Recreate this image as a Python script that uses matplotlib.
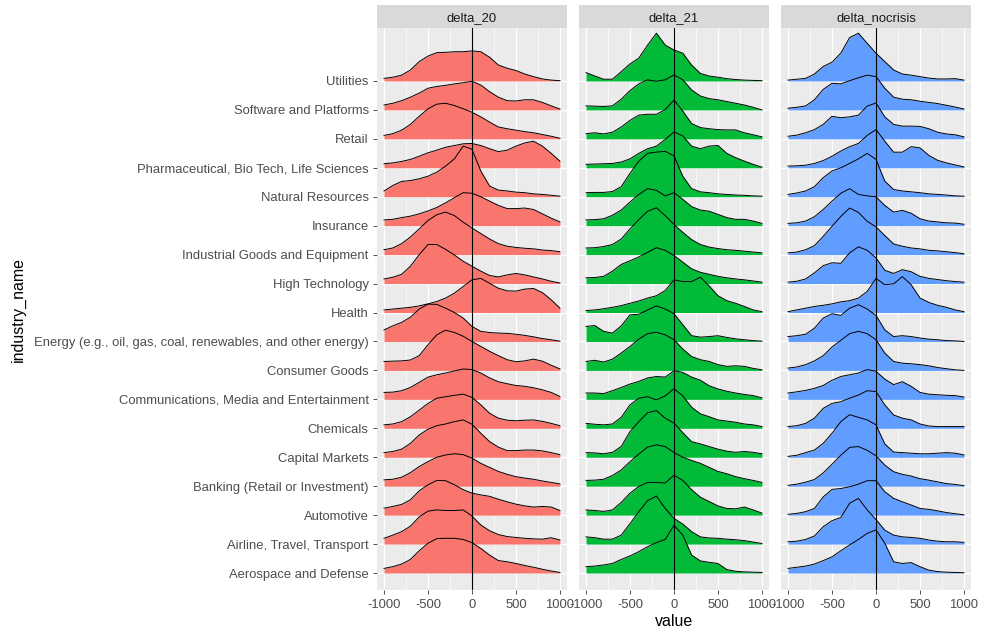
import matplotlib
matplotlib.use("Agg")
import matplotlib.pyplot as plt

plt.rcParams['font.family'] = ['Liberation Sans', 'DejaVu Sans']

# industries from bottom row to top row
industries = [
    "Aerospace and Defense", "Airline, Travel, Transport", "Automotive",
    "Banking (Retail or Investment)", "Capital Markets", "Chemicals",
    "Communications, Media and Entertainment", "Consumer Goods",
    "Energy (e.g., oil, gas, coal, renewables, and other energy)", "Health",
    "High Technology", "Industrial Goods and Equipment", "Insurance",
    "Natural Resources", "Pharmaceutical, Bio Tech, Life Sciences", "Retail",
    "Software and Platforms", "Utilities",
]

# x positions where ridge heights were read
value_grid = [-1000, -900, -800, -700, -600, -500, -400, -300, -200, -100, 0,
              100, 200, 300, 400, 500, 600, 700, 800, 900, 1000]

# ridge heights (in row units), same order as industries
delta_20 = [
    [0.16, 0.22, 0.31, 0.47, 0.77, 1.03, 1.19, 1.2, 1.2, 1.16, 1.05, 0.85, 0.62, 0.43, 0.39, 0.33, 0.26, 0.2, 0.13, 0.07, 0.02],
    [0.2, 0.31, 0.43, 0.62, 0.94, 1.14, 1.18, 1.16, 1.16, 1.18, 0.97, 0.66, 0.46, 0.33, 0.26, 0.23, 0.2, 0.18, 0.17, 0.22, 0.14],
    [0.24, 0.3, 0.37, 0.53, 0.84, 1.05, 1.2, 1.19, 1.05, 0.88, 0.76, 0.7, 0.65, 0.55, 0.46, 0.38, 0.32, 0.28, 0.3, 0.28, 0.16],
    [0.22, 0.24, 0.31, 0.47, 0.68, 0.85, 1.0, 1.08, 1.12, 1.09, 0.97, 0.79, 0.65, 0.51, 0.41, 0.33, 0.28, 0.24, 0.18, 0.13, 0.08],
    [0.16, 0.2, 0.28, 0.48, 0.77, 0.97, 1.09, 1.15, 1.23, 1.29, 1.14, 0.83, 0.54, 0.35, 0.23, 0.23, 0.25, 0.25, 0.22, 0.16, 0.09],
    [0.12, 0.15, 0.23, 0.4, 0.63, 0.86, 1.04, 1.09, 1.14, 1.18, 1.07, 0.81, 0.52, 0.35, 0.28, 0.26, 0.28, 0.29, 0.24, 0.17, 0.09],
    [0.24, 0.25, 0.3, 0.41, 0.59, 0.77, 0.85, 0.91, 0.98, 1.05, 1.03, 0.91, 0.74, 0.61, 0.54, 0.48, 0.45, 0.4, 0.33, 0.24, 0.1],
    [0.31, 0.32, 0.33, 0.36, 0.51, 0.89, 1.23, 1.39, 1.31, 1.18, 1.0, 0.83, 0.66, 0.51, 0.37, 0.3, 0.33, 0.39, 0.32, 0.18, 0.05],
    [0.4, 0.54, 0.66, 0.84, 1.12, 1.29, 1.28, 1.15, 1.0, 0.81, 0.52, 0.35, 0.31, 0.29, 0.28, 0.25, 0.21, 0.16, 0.1, 0.06, 0.01],
    [0.09, 0.12, 0.15, 0.18, 0.23, 0.3, 0.38, 0.5, 0.67, 0.9, 1.13, 1.18, 1.01, 0.84, 0.75, 0.74, 0.81, 0.83, 0.69, 0.44, 0.15],
    [0.16, 0.22, 0.32, 0.6, 1.0, 1.35, 1.35, 1.18, 0.99, 0.77, 0.6, 0.43, 0.28, 0.23, 0.3, 0.35, 0.3, 0.23, 0.16, 0.08, 0.02],
    [0.17, 0.23, 0.38, 0.61, 0.89, 1.18, 1.38, 1.47, 1.35, 1.12, 0.92, 0.73, 0.54, 0.38, 0.29, 0.25, 0.22, 0.2, 0.16, 0.14, 0.1],
    [0.2, 0.22, 0.28, 0.33, 0.41, 0.51, 0.63, 0.79, 0.97, 1.14, 1.12, 1.0, 0.85, 0.7, 0.59, 0.59, 0.61, 0.56, 0.41, 0.26, 0.13],
    [0.2, 0.39, 0.53, 0.56, 0.62, 0.71, 0.85, 1.06, 1.31, 1.75, 1.64, 0.89, 0.37, 0.23, 0.2, 0.16, 0.14, 0.1, 0.08, 0.05, 0.02],
    [0.14, 0.17, 0.22, 0.29, 0.4, 0.52, 0.61, 0.71, 0.77, 0.83, 0.84, 0.77, 0.66, 0.56, 0.61, 0.75, 0.86, 0.92, 0.75, 0.5, 0.23],
    [0.12, 0.18, 0.3, 0.5, 0.78, 1.04, 1.2, 1.23, 1.15, 1.04, 0.92, 0.76, 0.58, 0.41, 0.35, 0.3, 0.25, 0.21, 0.15, 0.09, 0.02],
    [0.17, 0.23, 0.32, 0.44, 0.58, 0.75, 0.81, 0.85, 0.9, 0.94, 0.99, 0.86, 0.63, 0.44, 0.32, 0.31, 0.35, 0.35, 0.26, 0.14, 0.03],
    [0.09, 0.13, 0.2, 0.38, 0.67, 0.86, 0.98, 0.99, 1.01, 1.01, 1.04, 1.01, 0.82, 0.55, 0.44, 0.36, 0.24, 0.15, 0.07, 0.03, 0.01],
]

delta_21 = [
    [0.22, 0.24, 0.28, 0.33, 0.47, 0.59, 0.74, 0.91, 1.05, 1.16, 1.65, 1.31, 0.62, 0.42, 0.37, 0.33, 0.12, 0.06, 0.04, 0.03, 0.02],
    [0.25, 0.22, 0.17, 0.17, 0.31, 0.71, 1.12, 1.5, 1.66, 1.23, 0.89, 0.69, 0.43, 0.25, 0.21, 0.2, 0.17, 0.15, 0.12, 0.07, 0.02],
    [0.18, 0.16, 0.13, 0.18, 0.44, 0.76, 0.99, 1.13, 1.13, 1.11, 1.38, 1.2, 0.88, 0.62, 0.47, 0.32, 0.23, 0.22, 0.28, 0.18, 0.07],
    [0.2, 0.21, 0.24, 0.37, 0.56, 0.85, 1.11, 1.35, 1.43, 1.37, 1.16, 1.0, 0.89, 0.79, 0.65, 0.51, 0.43, 0.33, 0.26, 0.2, 0.13],
    [0.16, 0.15, 0.12, 0.17, 0.37, 0.89, 1.23, 1.54, 1.61, 1.35, 1.18, 0.85, 0.54, 0.46, 0.37, 0.28, 0.21, 0.17, 0.2, 0.17, 0.12],
    [0.17, 0.14, 0.12, 0.15, 0.38, 0.81, 1.04, 1.09, 0.98, 1.12, 1.37, 1.12, 0.73, 0.5, 0.4, 0.29, 0.25, 0.21, 0.15, 0.12, 0.06],
    [0.22, 0.22, 0.2, 0.3, 0.41, 0.53, 0.62, 0.74, 0.79, 0.77, 0.99, 0.93, 0.77, 0.66, 0.47, 0.36, 0.28, 0.22, 0.17, 0.13, 0.05],
    [0.31, 0.35, 0.29, 0.39, 0.6, 0.83, 1.08, 1.27, 1.32, 1.23, 1.06, 0.74, 0.48, 0.37, 0.31, 0.2, 0.14, 0.16, 0.14, 0.07, 0.02],
    [0.52, 0.55, 0.35, 0.29, 0.54, 0.92, 0.94, 1.09, 1.23, 1.12, 0.96, 0.58, 0.2, 0.15, 0.17, 0.2, 0.14, 0.09, 0.06, 0.03, 0.01],
    [0.07, 0.09, 0.13, 0.18, 0.24, 0.32, 0.4, 0.5, 0.58, 0.76, 1.13, 1.07, 1.07, 1.22, 0.92, 0.58, 0.41, 0.32, 0.21, 0.09, 0.03],
    [0.2, 0.21, 0.25, 0.43, 0.66, 0.79, 0.92, 1.08, 1.24, 1.15, 0.97, 0.74, 0.51, 0.39, 0.32, 0.25, 0.2, 0.16, 0.13, 0.09, 0.05],
    [0.23, 0.24, 0.28, 0.35, 0.54, 0.89, 1.21, 1.5, 1.62, 1.35, 1.04, 0.77, 0.52, 0.35, 0.26, 0.21, 0.17, 0.15, 0.12, 0.09, 0.06],
    [0.2, 0.21, 0.24, 0.36, 0.54, 0.82, 1.08, 1.28, 1.22, 1.03, 1.14, 0.91, 0.66, 0.54, 0.5, 0.39, 0.28, 0.22, 0.22, 0.16, 0.08],
    [0.14, 0.15, 0.15, 0.18, 0.35, 0.81, 1.23, 1.5, 1.54, 1.57, 1.41, 0.71, 0.28, 0.17, 0.14, 0.1, 0.08, 0.06, 0.05, 0.03, 0.02],
    [0.12, 0.13, 0.14, 0.15, 0.2, 0.31, 0.5, 0.66, 0.75, 0.98, 1.24, 1.1, 0.75, 0.66, 0.75, 0.77, 0.5, 0.35, 0.23, 0.12, 0.02],
    [0.18, 0.21, 0.17, 0.23, 0.41, 0.64, 0.82, 0.85, 0.85, 1.01, 1.34, 0.96, 0.53, 0.39, 0.35, 0.32, 0.31, 0.31, 0.21, 0.14, 0.07],
    [0.14, 0.13, 0.12, 0.14, 0.37, 0.67, 0.9, 1.04, 0.99, 1.04, 1.21, 1.04, 0.69, 0.48, 0.39, 0.35, 0.29, 0.23, 0.17, 0.09, 0.0],
    [0.29, 0.17, 0.06, 0.06, 0.32, 0.59, 0.79, 1.24, 1.65, 1.24, 1.07, 0.96, 0.55, 0.26, 0.17, 0.13, 0.08, 0.05, 0.03, 0.02, 0.01],
]

delta_nocrisis = [
    [0.16, 0.2, 0.24, 0.31, 0.43, 0.56, 0.77, 0.97, 1.16, 1.37, 1.49, 1.03, 0.39, 0.33, 0.36, 0.22, 0.1, 0.05, 0.03, 0.02, 0.01],
    [0.08, 0.1, 0.16, 0.28, 0.6, 0.81, 0.92, 1.41, 1.58, 1.18, 0.85, 0.48, 0.31, 0.25, 0.23, 0.2, 0.14, 0.1, 0.08, 0.08, 0.06],
    [0.03, 0.06, 0.12, 0.23, 0.63, 0.89, 0.92, 0.98, 1.07, 1.19, 1.19, 0.81, 0.58, 0.46, 0.35, 0.23, 0.2, 0.15, 0.09, 0.05, 0.01],
    [0.03, 0.07, 0.14, 0.23, 0.46, 0.76, 1.07, 1.34, 1.37, 1.24, 1.05, 0.73, 0.5, 0.41, 0.35, 0.26, 0.21, 0.15, 0.09, 0.06, 0.02],
    [0.03, 0.07, 0.16, 0.25, 0.48, 0.83, 1.23, 1.47, 1.38, 1.29, 1.12, 0.46, 0.18, 0.16, 0.14, 0.12, 0.12, 0.14, 0.16, 0.14, 0.08],
    [0.06, 0.09, 0.17, 0.35, 0.69, 0.86, 0.92, 1.04, 1.15, 1.3, 1.27, 0.81, 0.46, 0.35, 0.29, 0.15, 0.08, 0.06, 0.06, 0.06, 0.06],
    [0.22, 0.26, 0.31, 0.38, 0.48, 0.66, 0.79, 0.85, 0.91, 1.03, 0.97, 0.7, 0.51, 0.61, 0.45, 0.24, 0.18, 0.16, 0.14, 0.13, 0.08],
    [0.08, 0.12, 0.2, 0.33, 0.51, 0.81, 1.04, 1.27, 1.35, 1.27, 1.06, 0.6, 0.31, 0.25, 0.23, 0.2, 0.16, 0.1, 0.06, 0.02, 0.0],
    [0.17, 0.2, 0.25, 0.46, 0.81, 0.96, 0.9, 1.15, 1.27, 1.12, 0.9, 0.4, 0.17, 0.2, 0.17, 0.12, 0.08, 0.06, 0.03, 0.02, 0.0],
    [0.03, 0.09, 0.15, 0.21, 0.25, 0.3, 0.37, 0.41, 0.5, 0.73, 1.18, 0.96, 0.99, 1.24, 0.96, 0.5, 0.35, 0.25, 0.18, 0.09, 0.03],
    [0.05, 0.08, 0.16, 0.37, 0.62, 0.72, 0.7, 1.06, 1.27, 1.15, 0.89, 0.46, 0.35, 0.48, 0.41, 0.25, 0.18, 0.14, 0.1, 0.07, 0.05],
    [0.06, 0.09, 0.17, 0.31, 0.63, 0.98, 1.32, 1.61, 1.46, 1.15, 0.96, 0.66, 0.37, 0.29, 0.23, 0.2, 0.15, 0.13, 0.1, 0.07, 0.03],
    [0.08, 0.1, 0.16, 0.31, 0.56, 0.85, 1.12, 1.28, 1.08, 1.03, 1.0, 0.7, 0.47, 0.53, 0.43, 0.24, 0.16, 0.13, 0.1, 0.09, 0.05],
    [0.08, 0.13, 0.2, 0.35, 0.66, 0.89, 1.0, 1.15, 1.31, 1.5, 1.29, 0.54, 0.25, 0.2, 0.17, 0.14, 0.1, 0.08, 0.06, 0.03, 0.02],
    [0.06, 0.07, 0.09, 0.15, 0.25, 0.4, 0.58, 0.73, 0.84, 1.12, 1.32, 0.92, 0.54, 0.54, 0.73, 0.69, 0.43, 0.26, 0.17, 0.1, 0.03],
    [0.09, 0.13, 0.21, 0.32, 0.5, 0.78, 0.73, 0.76, 0.82, 1.13, 1.24, 0.76, 0.5, 0.44, 0.44, 0.43, 0.35, 0.23, 0.17, 0.14, 0.07],
    [0.06, 0.09, 0.14, 0.35, 0.71, 0.92, 0.9, 1.01, 1.11, 1.2, 1.15, 0.75, 0.44, 0.37, 0.35, 0.3, 0.26, 0.22, 0.16, 0.1, 0.03],
    [0.03, 0.06, 0.09, 0.24, 0.5, 0.65, 0.96, 1.5, 1.65, 1.3, 0.96, 0.67, 0.38, 0.24, 0.2, 0.15, 0.1, 0.07, 0.07, 0.08, 0.03],
]

facets = ["delta_20", "delta_21", "delta_nocrisis"]
facet_data = [delta_20, delta_21, delta_nocrisis]
facet_colors = ["#F8766D", "#00BA38", "#619CFF"]
x_ticks = [-1000, -500, 0, 500, 1000]

W, H = 989, 634
fig = plt.figure(figsize=(W / 100, H / 100), dpi=100)

panel_left = [377, 579, 781]
panel_w = 190
top_px, bottom_px = 28, 590.4

for k in range(3):
    ax = fig.add_axes([panel_left[k] / W, 1 - bottom_px / H, panel_w / W, (bottom_px - top_px) / H])
    ax.set_facecolor("#EBEBEB")
    for s in ax.spines.values():
        s.set_visible(False)
    ax.set_xlim(-1080, 1080)
    ax.set_ylim(0.4, 19.83)
    ax.set_xticks(x_ticks)
    ax.set_xticklabels([str(t) for t in x_ticks])
    ax.set_xticks([-750, -250, 250, 750], minor=True)
    ax.set_yticks(range(1, len(industries) + 1))
    ax.tick_params(axis="both", which="major", colors="#333333", labelcolor="#4D4D4D",
                   labelsize=9.4, length=3, width=0.6, pad=3)
    ax.tick_params(axis="x", which="minor", length=0)
    if k == 0:
        ax.set_yticklabels(industries)
    else:
        ax.set_yticklabels([])
        ax.tick_params(axis="y", which="both", length=0)
    ax.grid(True, which="major", color="white", lw=0.9)
    ax.grid(True, which="minor", axis="x", color="white", lw=0.45)
    ax.set_axisbelow(True)

    # draw from the top row down so lower ridges overlap upper ones
    rows = facet_data[k]
    for i in range(len(industries) - 1, -1, -1):
        base = i + 1
        top = [base + h for h in rows[i]]
        z = 3 + (len(industries) - i) * 0.1
        ax.fill_between(value_grid, base, top, color=facet_colors[k], lw=0, zorder=z)
        ax.plot(value_grid, top, color="black", lw=0.7, zorder=z + 0.01)

    ax.axvline(0, color="black", lw=0.8, zorder=10)

    # facet strip
    sax = fig.add_axes([panel_left[k] / W, 1 - top_px / H, panel_w / W, 23 / H])
    sax.set_facecolor("#D9D9D9")
    sax.set_xticks([])
    sax.set_yticks([])
    for s in sax.spines.values():
        s.set_visible(False)
    sax.text(0.5, 0.45, facets[k], ha="center", va="center", fontsize=9.4, color="#1A1A1A",
             transform=sax.transAxes)

fig.text(674 / W, 1 - 622 / H, "value", ha="center", va="center", fontsize=11.5, color="black")
fig.text(18 / W, 1 - 309 / H, "industry_name", ha="center", va="center", rotation=90,
         fontsize=11.5, color="black")

fig.savefig("out.png", dpi=100)
